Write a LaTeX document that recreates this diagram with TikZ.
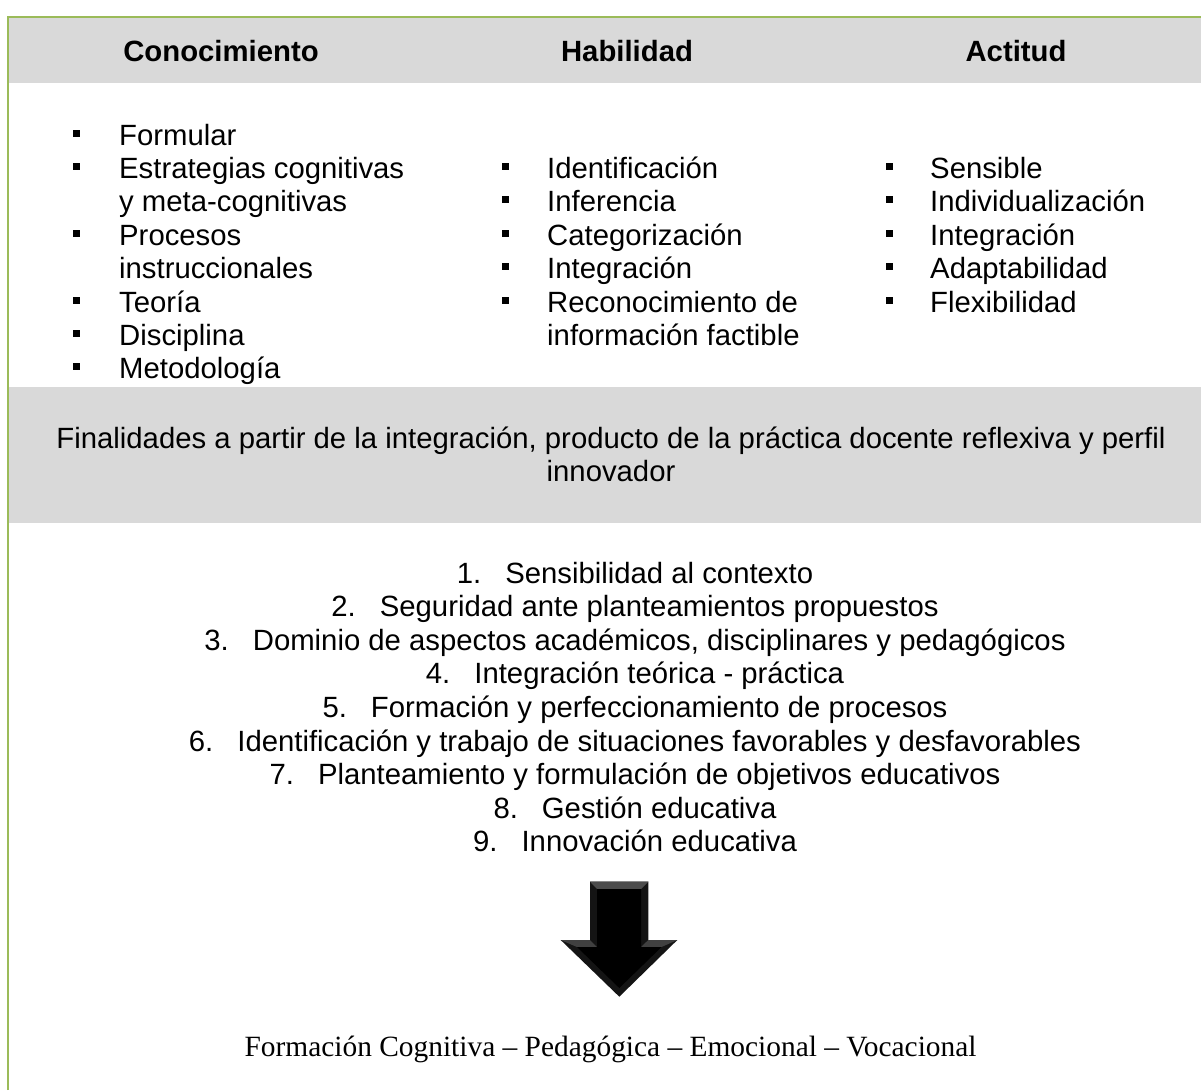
\documentclass[tikz,border=0pt]{standalone}
\usepackage{fontspec}
\setmainfont{Liberation Sans}
\newfontfamily\serifTNR{Liberation Serif}
\definecolor{frameGreen}{HTML}{9BBB59}
\definecolor{bandGray}{HTML}{D9D9D9}
\begin{document}
\begin{tikzpicture}[x=1pt,y=-1pt,
  txt/.style={anchor=base west,inner sep=0pt,font=\fontsize{29.3}{33.5}\selectfont},
  ctxt/.style={anchor=base,inner sep=0pt,font=\fontsize{29.3}{33.5}\selectfont},
  head/.style={anchor=base,inner sep=0pt,font=\fontsize{29.3}{33.5}\selectfont\bfseries},
  band/.style={fill=bandGray,draw=none},
  frameline/.style={draw=frameGreen,line width=2pt}]
\useasboundingbox (0,0) rectangle (1201,1090);
\fill[white] (0,0) rectangle (1201,1090);

% grey bands
\path[band] (9,18) rectangle (1201,83.3);
\path[band] (9,386.7) rectangle (1201,522.7);

% frame
\draw[frameline] (7.7,1090) -- (7.7,17) -- (1201,17);

% column headings
\node[head] (h1) at (221,61) {Conocimiento};
\node[head] (h2) at (627,61) {Habilidad};
\node[head] (h3) at (1016,61) {Actitud};

% bullet marker
\newcommand{\sqbullet}[2]{\fill (#1,{#2-15.5}) rectangle ++(7,7);}

% first column
\foreach \t [count=\i] in {Formular,Estrategias cognitivas,y meta-cognitivas,Procesos,instruccionales,Teoría,Disciplina,Metodología}{
  \node[txt] (a\i) at (119,{145+33.4*(\i-1)}) {\t};
}
\foreach \i in {1,2,4,6,7,8}{ \sqbullet{73}{145+33.4*(\i-1)} }

% second column
\foreach \t [count=\i] in {Identificación,Inferencia,Categorización,Integración,Reconocimiento de,información factible}{
  \node[txt] (b\i) at (547,{178.4+33.4*(\i-1)}) {\t};
}
\foreach \i in {1,...,5}{ \sqbullet{501.5}{178.4+33.4*(\i-1)} }

% third column
\foreach \t [count=\i] in {Sensible,Individualización,Integración,Adaptabilidad,Flexibilidad}{
  \node[txt] (c\i) at (930,{178.4+33.4*(\i-1)}) {\t};
}
\foreach \i in {1,...,5}{ \sqbullet{885.5}{178.4+33.4*(\i-1)} }

% middle band text
\node[ctxt] (f1) at (611,448.3) {Finalidades a partir de la integración, producto de la práctica docente reflexiva y perfil};
\node[ctxt] (f2) at (611,481.8) {innovador};

% numbered goals
\foreach \t [count=\i] in {Sensibilidad al contexto,Seguridad ante planteamientos propuestos,{Dominio de aspectos académicos, disciplinares y pedagógicos},Integración teórica - práctica,Formación y perfeccionamiento de procesos,Identificación y trabajo de situaciones favorables y desfavorables,Planteamiento y formulación de objetivos educativos,Gestión educativa,Innovación educativa}{
  \node[ctxt] (n\i) at (635,{583.3+33.55*(\i-1)}) {\i.\hspace{24pt}\t};
}

% down arrow with bevelled faces
\coordinate (tip) at (619.3,996.7);
\fill[black!92] (590,881.7) -- (648.3,881.7) -- (648.3,940) -- (677.3,940) -- (tip) -- (560.7,940) -- (590,940) -- cycle;
\fill[black!70] (590,881.7) -- (648.3,881.7) -- (641,889) -- (597,889) -- cycle;
\fill[black!75] (560.7,940) -- (590,940) -- (597,947) -- (577,947) -- cycle;
\fill[black!75] (648.3,940) -- (677.3,940) -- (661.5,947) -- (641,947) -- cycle;
\fill[black] (597,889) -- (641,889) -- (641,947) -- (661.5,947) -- (619.3,988) -- (577,947) -- (597,947) -- cycle;

% closing line
\node[anchor=base,inner sep=0pt,font=\serifTNR\fontsize{29.4}{33.5}\selectfont] (out) at (610.5,1056) {Formación Cognitiva – Pedagógica – Emocional – Vocacional};
\end{tikzpicture}
\end{document}
